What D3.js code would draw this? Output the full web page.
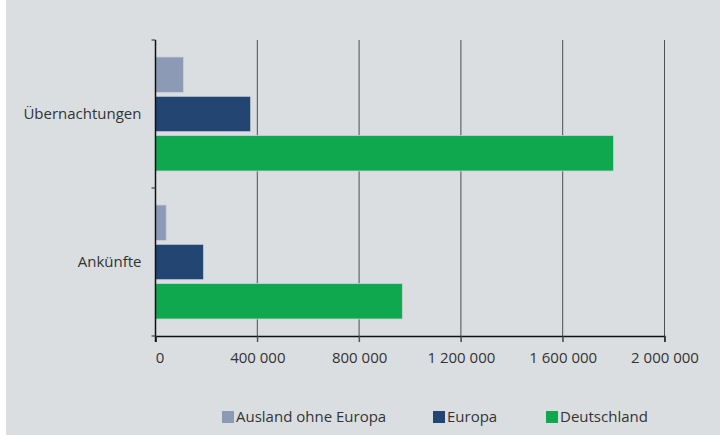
<!DOCTYPE html>
<html>
<head>
    <meta charset="utf-8">
    <script src="https://d3js.org/d3.v7.min.js"></script>
    <style>
        body { margin: 0; background: #fff; }
        svg text { font-family: "Open Sans", sans-serif; fill: #333; }
    </style>
</head>
<body>
    <svg id="chart" width="720" height="435"></svg>
    <script>
        const categories = ["Übernachtungen", "Ankünfte"];
        const seriesNames = ["Ausland ohne Europa", "Europa", "Deutschland"];
        const ausland = [110000, 42000];
        const europa = [374000, 189000];
        const deutschland = [1800000, 970000];
        const tickValues = [0, 400000, 800000, 1200000, 1600000, 2000000];
        const colors = ["#8c9ab6", "#234572", "#10a84f"];

        const svg = d3.select("#chart");
        svg.append("rect")
            .attr("x", 6).attr("y", 0)
            .attr("width", 714).attr("height", 435)
            .attr("fill", "#dadee1");

        const margin = { top: 40, left: 155.5, right: 55.5, bottom: 99 };
        const plotW = 720 - margin.left - margin.right;
        const plotH = 435 - margin.top - margin.bottom;

        const g = svg.append("g")
            .attr("transform", `translate(${margin.left},${margin.top})`);

        const x = d3.scaleLinear().domain([0, 2000000]).range([0, plotW]);
        const y = d3.scaleBand().domain(categories).range([0, plotH]);
        const inner = d3.scaleBand().domain(seriesNames)
            .range([17, y.bandwidth() - 17]).paddingInner(0.1);

        // gridlines
        g.selectAll(".grid")
            .data(tickValues.slice(1))
            .join("line")
            .attr("x1", d => x(d)).attr("x2", d => x(d))
            .attr("y1", 0).attr("y2", plotH + 6)
            .attr("stroke", "#4d4f52").attr("stroke-width", 1);

        const data = [];
        categories.forEach((c, i) => {
            data.push({ cat: c, s: seriesNames[0], v: ausland[i], col: colors[0] });
            data.push({ cat: c, s: seriesNames[1], v: europa[i], col: colors[1] });
            data.push({ cat: c, s: seriesNames[2], v: deutschland[i], col: colors[2] });
        });

        g.selectAll(".bar")
            .data(data)
            .join("rect")
            .attr("x", x(0))
            .attr("y", d => y(d.cat) + inner(d.s))
            .attr("width", d => x(d.v))
            .attr("height", inner.bandwidth())
            .attr("fill", d => d.col)
            .attr("stroke", "#c8d0da")
            .attr("stroke-width", 0.8);

        // x axis
        const xAxis = g.append("g")
            .attr("transform", `translate(0,${plotH})`)
            .call(d3.axisBottom(x).tickValues(tickValues).tickSize(6).tickPadding(10)
                .tickFormat(d => d3.format(",")(d).replace(/,/g, " ")));
        xAxis.select(".domain").attr("stroke", "#111").attr("stroke-width", 1.5);
        xAxis.selectAll(".tick line").attr("stroke", "#4d4f52");
        xAxis.selectAll("text").attr("font-size", 15).attr("fill", "#333")
            .attr("font-family", "Open Sans, sans-serif");
        xAxis.selectAll(".tick").filter(d => d === 0).select("text").attr("dx", 4);

        // y axis
        const yAxis = g.append("g");
        yAxis.append("line")
            .attr("x1", 0).attr("x2", 0).attr("y1", 0).attr("y2", plotH + 6)
            .attr("stroke", "#111").attr("stroke-width", 1.5);
        yAxis.selectAll(".ytick")
            .data([0, plotH / 2, plotH])
            .join("line")
            .attr("x1", -4).attr("x2", 0)
            .attr("y1", d => d).attr("y2", d => d)
            .attr("stroke", "#444").attr("stroke-width", 1.2);
        yAxis.selectAll(".ylab")
            .data(categories)
            .join("text")
            .attr("x", -14)
            .attr("y", d => y(d) + y.bandwidth() / 2)
            .attr("dy", "0.35em")
            .attr("text-anchor", "end")
            .attr("font-size", 15)
            .text(d => d);

        // legend
        const legendX = [222, 433, 546];
        const legend = svg.append("g");
        seriesNames.forEach((s, i) => {
            legend.append("rect")
                .attr("x", legendX[i]).attr("y", 411)
                .attr("width", 12).attr("height", 12)
                .attr("fill", colors[i]);
            legend.append("text")
                .attr("x", legendX[i] + 14).attr("y", 422)
                .attr("font-size", 15)
                .text(s);
        });
    </script>
</body>
</html>
